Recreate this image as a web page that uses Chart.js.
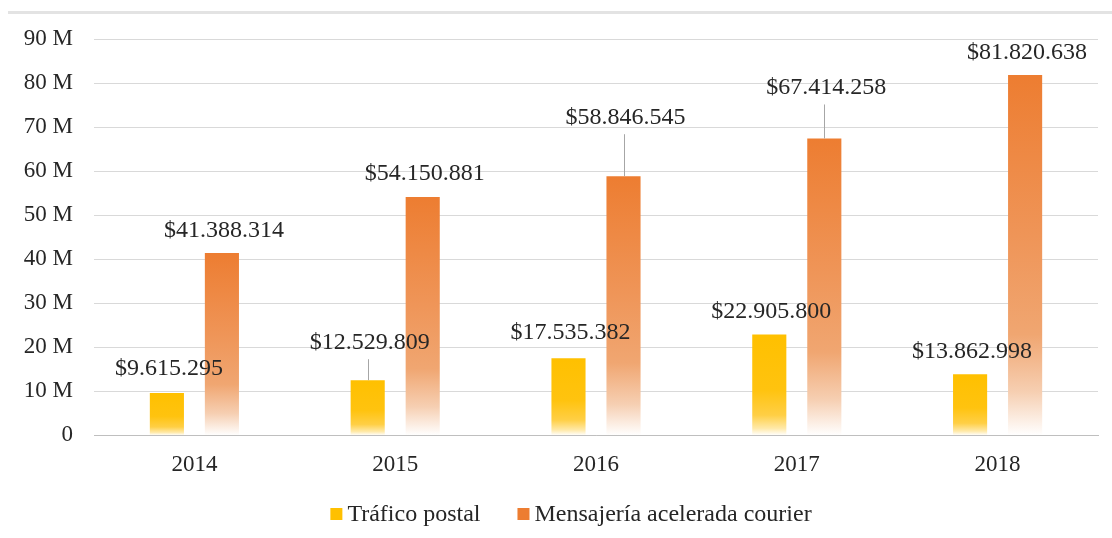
<!DOCTYPE html>
<html>
<head>
<meta charset="utf-8">
<script src="https://cdn.jsdelivr.net/npm/chart.js@4.4.1/dist/chart.umd.min.js"></script>
<style>
  html, body { margin: 0; padding: 0; background: #ffffff; }
  #wrap { position: relative; width: 1112px; height: 538px; }
  #topline { position: absolute; left: 8px; top: 11px; width: 1104px; height: 3px; background: #E3E3E3; }
  canvas { position: absolute; left: 0; top: 0; }
</style>
</head>
<body>
<div id="wrap">
  <div id="topline"></div>
  <canvas id="c" width="1112" height="538"></canvas>
</div>
<script>
// ---- Data ----
const categories = ['2014', '2015', '2016', '2017', '2018'];
const seriesNames = ['Tráfico postal', 'Mensajería acelerada courier'];
const traficoPostal = [9615295, 12529809, 17535382, 22905800, 13862998];
const mensajeriaCourier = [41388314, 54150881, 58846545, 67414258, 81820638];
const yTickLabels = ['0', '10 M', '20 M', '30 M', '40 M', '50 M', '60 M', '70 M', '80 M', '90 M'];

// label lift above bar top (pixels), per point
const postalLabelLift = [24, 38, 25, 23, 23];
const courierLabelLift = [22, 23, 59, 51, 22];

const FONT = '"Liberation Serif", "DejaVu Serif", "Times New Roman", serif';
const TEXT = '#262626';

const YELLOW_STOPS = [[0, '#FFC000'], [0.55, '#FFC30F'], [0.8, '#FFCF45'], [0.93, '#FFE9A8'], [1, '#FFFFFF']];
const ORANGE_STOPS = [[0, '#ED7D31'], [0.45, '#EF9558'], [0.72, '#F0A671'], [0.88, '#F6CFB2'], [1, '#FFFFFF']];
const SOLID = ['#FFC000', '#ED7D31'];

function gradientFor(stops, solid) {
  return function (ctx) {
    const chart = ctx.chart;
    if (ctx.type !== 'data' || !chart.chartArea) return solid;
    const y = chart.scales.y;
    const top = y.getPixelForValue(ctx.raw);
    const base = y.getPixelForValue(0);
    if (!isFinite(top) || !isFinite(base) || base - top < 1) return solid;
    const g = chart.ctx.createLinearGradient(0, top, 0, base);
    stops.forEach(s => g.addColorStop(s[0], s[1]));
    return g;
  };
}

function fmt(v) {
  return '$' + String(v).replace(/\B(?=(\d{3})+(?!\d))/g, '.');
}

const labelPlugin = {
  id: 'barLabels',
  afterDatasetsDraw(chart) {
    const c = chart.ctx;
    const lifts = [postalLabelLift, courierLabelLift];
    c.save();
    c.font = '24px ' + FONT;
    c.fillStyle = TEXT;
    c.textAlign = 'center';
    c.textBaseline = 'middle';
    chart.data.datasets.forEach((ds, di) => {
      const meta = chart.getDatasetMeta(di);
      meta.data.forEach((el, i) => {
        const lift = lifts[di][i];
        const ly = el.y - lift;
        if (lift > 30) {
          c.save();
          c.strokeStyle = '#A6A6A6';
          c.lineWidth = 1;
          c.beginPath();
          c.moveTo(Math.round(el.x) + 0.5, ly + 17);
          c.lineTo(Math.round(el.x) + 0.5, el.y);
          c.stroke();
          c.restore();
        }
        c.fillText(fmt(ds.data[i]), el.x + 2, ly);
      });
    });
    c.restore();
  }
};

// custom bottom legend (Chart.js legend padding couples vertical and horizontal spacing)
const legendPlugin = {
  id: 'bottomLegend',
  afterDraw(chart) {
    const c = chart.ctx;
    c.save();
    c.font = '24px ' + FONT;
    c.textBaseline = 'middle';
    c.textAlign = 'left';
    const box = 12, gapText = 5, gapItem = 37;
    const widths = seriesNames.map(t => c.measureText(t).width);
    const total = widths.reduce((a, w) => a + box + gapText + w, 0) + gapItem * (seriesNames.length - 1);
    let x = 571 - total / 2;
    const y = 515;
    seriesNames.forEach((t, i) => {
      c.fillStyle = SOLID[i];
      c.fillRect(x, y - box / 2 - 1, box, box);
      x += box + gapText;
      c.fillStyle = TEXT;
      c.fillText(t, x, y);
      x += widths[i] + gapItem;
    });
    c.restore();
  }
};

new Chart(document.getElementById('c'), {
  type: 'bar',
  data: {
    labels: categories,
    datasets: [
      {
        label: seriesNames[0],
        data: traficoPostal,
        backgroundColor: gradientFor(YELLOW_STOPS, SOLID[0]),
        borderWidth: 0,
        categoryPercentage: 0.548,
        barPercentage: 0.62
      },
      {
        label: seriesNames[1],
        data: mensajeriaCourier,
        backgroundColor: gradientFor(ORANGE_STOPS, SOLID[1]),
        borderWidth: 0,
        categoryPercentage: 0.548,
        barPercentage: 0.62
      }
    ]
  },
  options: {
    responsive: false,
    animation: false,
    devicePixelRatio: 1,
    layout: { padding: { top: 39, right: 14, left: 0, bottom: 43 } },
    plugins: {
      tooltip: { enabled: false },
      legend: { display: false }
    },
    scales: {
      x: {
        grid: { display: false, drawTicks: false },
        border: { display: true, color: '#BFBFBF', width: 1 },
        ticks: { font: { family: FONT, size: 23 }, color: TEXT, padding: 16 }
      },
      y: {
        min: 0,
        max: 90000000,
        grid: { color: '#D9D9D9', lineWidth: 1, drawTicks: false },
        border: { display: false },
        afterFit(scale) { scale.width = 94; scale.paddingTop = 0; scale.paddingBottom = 0; },
        ticks: {
          stepSize: 10000000,
          font: { family: FONT, size: 23 },
          color: TEXT,
          padding: 21,
          callback: (v, i) => yTickLabels[i]
        }
      }
    }
  },
  plugins: [labelPlugin, legendPlugin]
});
</script>
</body>
</html>
